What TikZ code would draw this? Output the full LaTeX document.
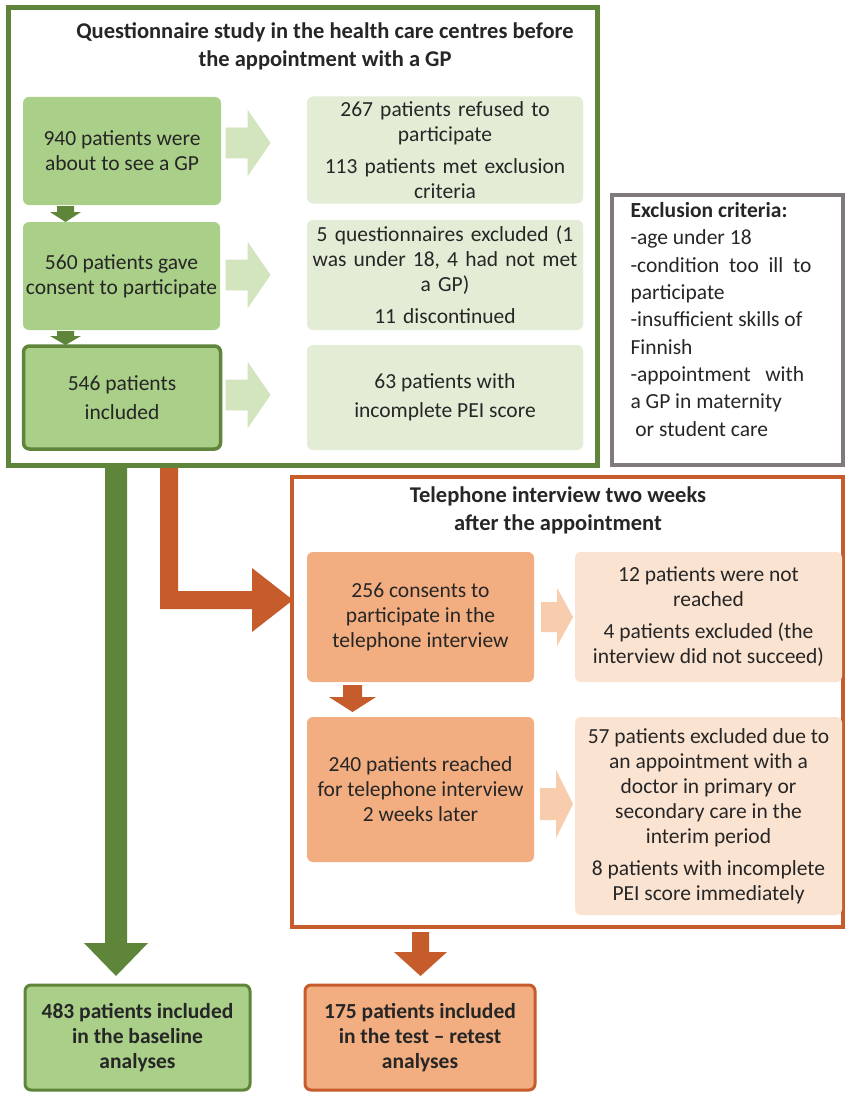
\documentclass[tikz,border=0pt]{standalone}
\usepackage{fontspec}
\setmainfont{Carlito}
\definecolor{dgreen}{HTML}{5E853A}
\definecolor{mgreen}{HTML}{A9CF88}
\definecolor{lgreen}{HTML}{E3EDD6}
\definecolor{agreen}{HTML}{D2E5BE}
\definecolor{dorange}{HTML}{C65B2B}
\definecolor{morange}{HTML}{F2AE80}
\definecolor{lorange}{HTML}{FBE3D1}
\definecolor{aorange}{HTML}{F7CDAE}
\definecolor{gframe}{HTML}{807A7A}
\definecolor{txt}{HTML}{262626}
\begin{document}
\begin{tikzpicture}[x=1pt,y=-1pt,
  every node/.style={text=txt,font=\fontsize{21.5}{25}\selectfont},
  box/.style={rounded corners=6pt,align=center,inner sep=2pt},
  gbox/.style={box,fill=mgreen},
  glbox/.style={box,fill=lgreen},
  obox/.style={box,fill=morange},
  olbox/.style={box,fill=lorange},
  ttl/.style={align=center,font=\bfseries\fontsize{22.5}{28}\selectfont}]
\useasboundingbox (0,0) rectangle (845,1094);
\fill[white] (0,0) rectangle (845,1094);

% frames
\draw[dgreen,line width=5pt] (8,8) rectangle (597,465);
\draw[gframe,line width=4pt] (612,195) rectangle (843,465);
\draw[dorange,line width=3.5pt] (292,477) rectangle (843,927);

\node[ttl] (qt) at (325,46) {Questionnaire study in the health care centres before\\the appointment with a GP};

% green boxes
\node[gbox,minimum width=198pt,minimum height=108pt] (q1) at (122,151) {940 patients were\\about to see a GP};
\node[glbox,minimum width=276pt,minimum height=107pt,text width=272pt] (q1r) at (445,150) {267 patients refused to\\participate\\[7pt]113 patients met exclusion\\criteria};
\node[gbox,minimum width=197pt,minimum height=108pt] (q2) at (121.5,276) {560 patients gave\\consent to participate};
\node[glbox,minimum width=276pt,minimum height=110pt,text width=272pt] (q2r) at (445,275) {5 questionnaires excluded (1\\was under 18, 4 had not met\\a GP)\\[7pt]11 discontinued};
\node[gbox,draw=dgreen,line width=3.5pt,minimum width=197pt,minimum height=103pt] (q3) at (122,397.5) {546 patients\\[4pt]included};
\node[glbox,minimum width=276pt,minimum height=105pt] (q3r) at (445,397.5) {63 patients with\\[4pt]incomplete PEI score};

% exclusion criteria
\node[align=left,anchor=north west,font=\fontsize{21.5}{27.3}\selectfont] (ex) at (627,199) {\textbf{Exclusion criteria:}\\-age under 18\\-condition\ \ too\ \ ill\ \ to\\participate\\-insufficient skills of\\Finnish\\-appointment\ \ \ with\\a GP in maternity\\\ or student care};

% orange section
\node[ttl] (tt) at (558,510) {Telephone interview two weeks\\after the appointment};
\node[obox,minimum width=227pt,minimum height=130pt] (t1) at (420.5,617) {256 consents to\\participate in the\\telephone interview};
\node[olbox,minimum width=267pt,minimum height=130pt] (t1r) at (708.5,617) {12 patients were not\\reached\\[7pt]4 patients excluded (the\\interview did not succeed)};
\node[obox,minimum width=227pt,minimum height=145pt] (t2) at (420.5,789.5) {240 patients reached\\for telephone interview\\2 weeks later};
\node[olbox,minimum width=267pt,minimum height=198pt] (t2r) at (708.5,816) {57 patients excluded due to\\an appointment with a\\doctor in primary or\\secondary care in the\\interim period\\[7pt]8 patients with incomplete\\PEI score immediately};

% final boxes
\node[gbox,draw=dgreen,line width=3pt,minimum width=225pt,minimum height=105pt,font=\bfseries\fontsize{21.5}{25}\selectfont] (b1) at (137.5,1037.5) {483 patients included\\in the baseline\\analyses};
\node[obox,draw=dorange,line width=3pt,minimum width=230pt,minimum height=105pt,font=\bfseries\fontsize{21.5}{25}\selectfont] (b2) at (420,1037.5) {175 patients included\\in the test -- retest\\analyses};

% side block arrows (green)
\foreach \yy in {143,275,395}{
  \filldraw[fill=agreen,draw=lgreen!70!mgreen,line width=0.8pt]
    (226,\yy-15) -- (248,\yy-15) -- (248,\yy-32) -- (270,\yy) -- (248,\yy+32) -- (248,\yy+15) -- (226,\yy+15) -- cycle;
}
% side block arrows (orange)
\fill[aorange] (541,617-15) -- (557,617-15) -- (557,617-29) -- (573,617) -- (557,617+29) -- (557,617+15) -- (541,617+15) -- cycle;
\fill[aorange] (540,804-16) -- (556,804-16) -- (556,804-34) -- (573,804) -- (556,804+34) -- (556,804+16) -- (540,804+16) -- cycle;

% small down arrows (green)
\fill[dgreen] (57,206) -- (74,206) -- (74,212) -- (81,212) -- (65.5,222) -- (50,212) -- (57,212) -- cycle;
\fill[dgreen] (57,331) -- (74,331) -- (74,336) -- (81,336) -- (65.5,345) -- (50,336) -- (57,336) -- cycle;
% small down arrow (orange)
\fill[dorange] (343,685) -- (362,685) -- (362,697) -- (376,697) -- (352.5,712) -- (329,697) -- (343,697) -- cycle;

% big green arrow
\fill[dgreen] (105,468) -- (127,468) -- (127,943) -- (148,943) -- (116,976) -- (84,943) -- (105,943) -- cycle;
% L orange arrow
\fill[dorange] (160,468) -- (178,468) -- (178,591) -- (252,591) -- (252,568) -- (293,600) -- (252,632) -- (252,609) -- (160,609) -- cycle;
% bottom orange arrow
\fill[dorange] (412,932) -- (429,932) -- (429,952) -- (447,952) -- (420.5,976) -- (394,952) -- (412,952) -- cycle;
\end{tikzpicture}
\end{document}
